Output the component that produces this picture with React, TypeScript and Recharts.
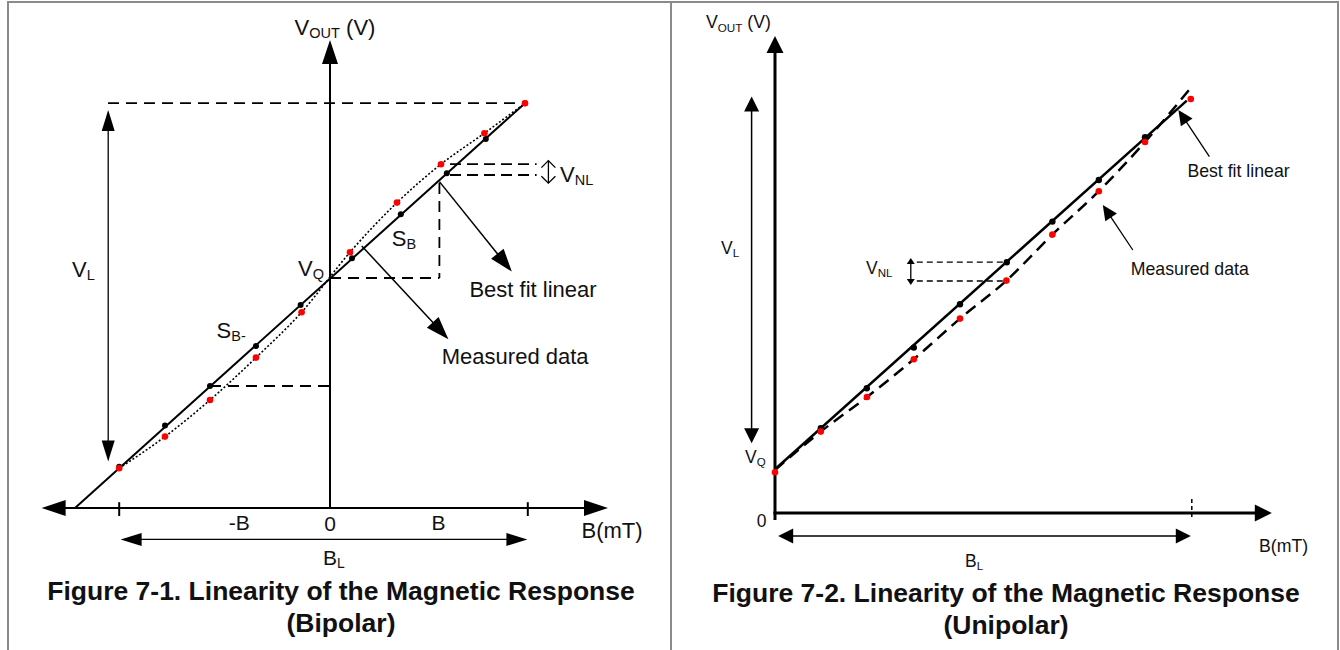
import React from 'react';
import { ComposedChart, Line, XAxis, YAxis, ReferenceLine, ReferenceDot } from 'recharts';

const FONT = '"Liberation Sans", Arial, Helvetica, sans-serif';

// Figure 7-1 (bipolar): B in mT, V_OUT in arbitrary units
const bipolarFitLine = [
  { b: -127.5, v: 0 },
  { b: 97.5, v: 202.4 },
];
const bipolarFitDots = [
  { b: -105.4, v: 20.6 },
  { b: -82.5, v: 41.3 },
  { b: -60, v: 61 },
  { b: -37, v: 81 },
  { b: -14.7, v: 101.5 },
  { b: 11, v: 124.9 },
  { b: 35.4, v: 146.9 },
  { b: 58.4, v: 167.4 },
  { b: 77.9, v: 184.5 },
  { b: 97.5, v: 202.4 },
];
const bipolarMeasured = [
  { b: -105.4, v: 19.9 },
  { b: -82.5, v: 35.7 },
  { b: -60, v: 54 },
  { b: -37, v: 75.2 },
  { b: -14.2, v: 97.9 },
  { b: 10, v: 127.9 },
  { b: 33.5, v: 152.7 },
  { b: 55.5, v: 171.9 },
  { b: 77.2, v: 187.4 },
  { b: 97.5, v: 202.4 },
];
const bipolarTickLabels = ['-B', '0', 'B'];

// Figure 7-2 (unipolar)
const unipolarFitLine = [
  { b: 0, v: 21.9 },
  { b: 205.9, v: 206.2 },
];
const unipolarFitDots = [
  { b: 22.9, v: 42.4 },
  { b: 45.9, v: 62.4 },
  { b: 69.4, v: 82.7 },
  { b: 92.5, v: 104.4 },
  { b: 115.9, v: 125.4 },
  { b: 138.7, v: 145.7 },
  { b: 161.9, v: 166.5 },
  { b: 185, v: 187.9 },
];
const unipolarMeasured = [
  { b: 0, v: 20.4 },
  { b: 22.9, v: 40.7 },
  { b: 46, v: 58 },
  { b: 69.4, v: 76.9 },
  { b: 92.5, v: 97.2 },
  { b: 115.7, v: 116.2 },
  { b: 138.7, v: 139.2 },
  { b: 161.9, v: 160.9 },
  { b: 185, v: 185.5 },
  { b: 207.9, v: 207 },
];
const unipolarMeasuredCurve = [
  { b: 0, v: 21.5 },
  { b: 22.9, v: 40.7 },
  { b: 46, v: 58 },
  { b: 69.4, v: 76.9 },
  { b: 92.5, v: 97.2 },
  { b: 115.7, v: 116.2 },
  { b: 138.7, v: 139.2 },
  { b: 161.9, v: 160.9 },
  { b: 185, v: 185.5 },
  { b: 208.4, v: 213.2 },
];

type Head = { kind: 'fill' | 'open'; len: number; half: number };

function arrow(width: number, end?: Head, start?: Head) {
  return (p: any) => {
    const { x1, y1, x2, y2 } = p;
    const dx = x2 - x1;
    const dy = y2 - y1;
    const L = Math.hypot(dx, dy) || 1;
    const ux = dx / L;
    const uy = dy / L;
    const nx = -uy;
    const ny = ux;
    let sx = x1, sy = y1, ex = x2, ey = y2;
    const heads: any[] = [];
    const mk = (tx: number, ty: number, dx0: number, dy0: number, h: Head, key: string) => {
      const bx = tx - dx0 * h.len;
      const by = ty - dy0 * h.len;
      const pts = `${bx + nx * h.half},${by + ny * h.half} ${tx},${ty} ${bx - nx * h.half},${by - ny * h.half}`;
      return h.kind === 'fill'
        ? <polygon key={key} points={pts} fill="#000" />
        : <polyline key={key} points={pts} fill="none" stroke="#000" strokeWidth={width} />;
    };
    if (end) {
      heads.push(mk(x2, y2, ux, uy, end, 'e'));
      if (end.kind === 'fill') { ex = x2 - ux * (end.len - 1); ey = y2 - uy * (end.len - 1); }
    }
    if (start) {
      heads.push(mk(x1, y1, -ux, -uy, start, 's'));
      if (start.kind === 'fill') { sx = x1 + ux * (start.len - 1); sy = y1 + uy * (start.len - 1); }
    }
    return (
      <g>
        <line x1={sx} y1={sy} x2={ex} y2={ey} stroke="#000" strokeWidth={width} />
        {heads}
      </g>
    );
  };
}

type Part = [string, boolean?];

function note(key: string, b: number, v: number, parts: Part[], size: number, anchor: 'start' | 'middle' = 'start') {
  const sub = size * 0.66;
  const shift = size * 0.28;
  return (
    <ReferenceDot
      key={key}
      x={b}
      y={v}
      r={0}
      shape={(p: any) => {
        let low = false;
        return (
          <text x={p.cx} y={p.cy} fontFamily={FONT} fontSize={size} fill="#111" textAnchor={anchor} dominantBaseline="central">
            {parts.map(([t, isSub], i) => {
              let dy = 0;
              if (isSub && !low) { dy = shift; low = true; }
              else if (!isSub && low) { dy = -shift; low = false; }
              return (
                <tspan key={i} dy={dy} fontSize={isSub ? sub : size}>{t}</tspan>
              );
            })}
          </text>
        );
      }}
    />
  );
}

const dash = (key: string, a: [number, number], c: [number, number], w: number, pattern: string) => (
  <ReferenceLine
    key={key}
    segment={[{ x: a[0], y: a[1] }, { x: c[0], y: c[1] }]}
    stroke="#000"
    strokeWidth={w}
    strokeDasharray={pattern}
  />
);

const arr = (key: string, a: [number, number], c: [number, number], shape: any) => (
  <ReferenceLine key={key} segment={[{ x: a[0], y: a[1] }, { x: c[0], y: c[1] }]} shape={shape} />
);

const bigL: Head = { kind: 'fill', len: 24, half: 8 };
const medL: Head = { kind: 'fill', len: 21, half: 6.5 };
const annL: Head = { kind: 'fill', len: 23, half: 8 };
const openL: Head = { kind: 'open', len: 7, half: 7 };

const bigR: Head = { kind: 'fill', len: 17, half: 8.5 };
const medR: Head = { kind: 'fill', len: 15, half: 7.5 };
const annR: Head = { kind: 'fill', len: 15, half: 7 };
const smallR: Head = { kind: 'fill', len: 6, half: 4 };

function Bipolar() {
  return (
    <ComposedChart width={670} height={650} margin={{ top: 0, right: 0, bottom: 0, left: 0 }}>
      <XAxis type="number" dataKey="b" domain={[-165, 170]} hide allowDataOverflow />
      <YAxis type="number" domain={[-71, 254]} hide allowDataOverflow />

      {arr('yaxis', [0, 0], [0, 234], arrow(2, bigL))}
      {arr('xaxis', [-144.2, 0], [139, 0], arrow(2, bigL, bigL))}
      {arr('tickL', [-105.4, 2.9], [-105.4, -4], arrow(2))}
      {arr('tickR', [98.9, 2.9], [98.9, -4], arrow(2))}

      {dash('top', [-111, 202.4], [97.5, 202.4], 1.8, '11 7')}
      {arr('vl', [-110.9, 23.2], [-110.9, 199], arrow(1.3, medL, medL))}
      {dash('vnl1', [60, 171.9], [103.3, 171.9], 1.8, '11 6')}
      {dash('vnl2', [60, 166.5], [103.3, 166.5], 1.8, '11 6')}
      {arr('vnlArrow', [109.2, 162.4], [109.2, 173.7], arrow(1.3, openL, openL))}
      {dash('sbV', [54.7, 162.5], [54.7, 115], 1.8, '11 7')}
      {dash('sbH', [0, 115], [54.7, 115], 1.8, '11 7')}
      {dash('sbm', [-60, 61], [0, 61], 1.8, '11 7')}
      {arr('fitArrow', [54.7, 163.2], [90.9, 118.2], arrow(1.5, annL))}
      {arr('measArrow', [15.9, 131], [59.2, 84.4], arrow(1.5, annL))}
      {arr('bl', [-104.7, -15.7], [98.7, -15.7], arrow(1.3, medL, medL))}

      <Line data={bipolarFitLine} dataKey="v" type="linear" stroke="#000" strokeWidth={2} dot={false} activeDot={false} isAnimationActive={false} />
      <Line data={bipolarFitDots} dataKey="v" stroke="none" dot={{ r: 3, fill: '#000', stroke: 'none' }} activeDot={false} isAnimationActive={false} />
      <Line data={bipolarMeasured} dataKey="v" type="monotone" stroke="#000" strokeWidth={1.6} strokeDasharray="2 2" dot={{ r: 3.3, fill: '#ff0000', stroke: 'none' }} activeDot={false} isAnimationActive={false} />

      {note('vout', 2.5, 240.5, [['V'], ['OUT', true], [' (V)']], 22, 'middle')}
      {note('vlT', -129, 119.5, [['V'], ['L', true]], 22)}
      {note('sbm', -56.7, 89, [['S'], ['B-', true]], 22)}
      {note('vq', -16, 120, [['V'], ['Q', true]], 22)}
      {note('sb', 30.9, 135, [['S'], ['B', true]], 22)}
      {note('vnl', 115, 167, [['V'], ['NL', true]], 22)}
      {note('fit', 69.7, 109.4, [['Best fit linear']], 22)}
      {note('meas', 55.9, 76, [['Measured data']], 22)}
      {note('t0', -45.4, -7.2, [[bipolarTickLabels[0]]], 21, 'middle')}
      {note('t1', 0, -7.6, [[bipolarTickLabels[1]]], 21, 'middle')}
      {note('t2', 54.2, -7.2, [[bipolarTickLabels[2]]], 21, 'middle')}
      {note('bmt', 141, -11, [['B(mT)']], 22, 'middle')}
      {note('blT', -3.5, -24.4, [['B'], ['L', true]], 21)}
    </ComposedChart>
  );
}

function Unipolar() {
  return (
    <ComposedChart width={670} height={650} margin={{ top: 0, right: 0, bottom: 0, left: 0 }}>
      <XAxis type="number" dataKey="b" domain={[-52.5, 282.5]} hide allowDataOverflow />
      <YAxis type="number" domain={[-68.5, 256.5]} hide allowDataOverflow />

      {arr('yaxis', [0, -3.5], [0, 238.5], arrow(3, bigR))}
      {arr('xaxis', [-0.8, 0], [248.4, 0], arrow(3, bigR))}
      {dash('tick', [208.4, 7], [208.4, -3.5], 1.5, '4 3')}
      {arr('vl', [-11.7, 34.9], [-11.7, 208.2], arrow(1.5, medR, medR))}
      {arr('bl', [1.6, -11.5], [207.9, -11.5], arrow(1.5, medR, medR))}
      {dash('vnl1', [70.9, 125.4], [115.9, 125.4], 1.3, '6 4')}
      {dash('vnl2', [70.9, 116], [115.7, 116], 1.3, '6 4')}
      {arr('vnlArrow', [67.9, 114], [67.9, 127.5], arrow(1.3, smallR, smallR))}
      {arr('fitArrow', [217.2, 178.2], [201.7, 201.5], arrow(1.3, annR))}
      {arr('measArrow', [178.9, 131.5], [163.9, 154], arrow(1.3, annR))}

      <Line data={unipolarFitLine} dataKey="v" type="linear" stroke="#000" strokeWidth={2.5} dot={false} activeDot={false} isAnimationActive={false} />
      <Line data={unipolarFitDots} dataKey="v" stroke="none" dot={{ r: 3.2, fill: '#000', stroke: 'none' }} activeDot={false} isAnimationActive={false} />
      <Line data={unipolarMeasuredCurve} dataKey="v" type="monotone" stroke="#000" strokeWidth={2.5} strokeDasharray="12 7" dot={false} activeDot={false} isAnimationActive={false} />
      <Line data={unipolarMeasured} dataKey="v" stroke="none" dot={{ r: 3.3, fill: '#ff0000', stroke: 'none' }} activeDot={false} isAnimationActive={false} />

      {note('vout', -18.3, 245.7, [['V'], ['OUT', true], [' (V)']], 17.7, 'middle')}
      {note('vlT', -27, 132.5, [['V'], ['L', true]], 17.5)}
      {note('vq', -15, 28.2, [['V'], ['Q', true]], 17.5)}
      {note('zero', -6.7, -3.9, [['0']], 17.5, 'middle')}
      {note('bmt', 254.3, -16.5, [['B(mT)']], 17.7, 'middle')}
      {note('blT', 95, -24, [['B'], ['L', true]], 17.5)}
      {note('fit', 206.2, 171.2, [['Best fit linear']], 17.7)}
      {note('meas', 177.9, 122, [['Measured data']], 17.7)}
      {note('vnl', 45.5, 122.4, [['V'], ['NL', true]], 17.5)}
    </ComposedChart>
  );
}

const border = '#8a8a8a';
const captionStyle: React.CSSProperties = {
  position: 'absolute',
  width: 670,
  textAlign: 'center',
  fontFamily: FONT,
  fontWeight: 'bold',
  fontSize: 26.5,
  lineHeight: '31.5px',
  color: '#111',
};

export default function App() {
  return (
    <div style={{ position: 'fixed', left: 0, top: 0, width: 1340, height: 650, background: '#fff', overflow: 'hidden' }}>
      <div style={{ position: 'absolute', left: 7, top: 1, width: 1332, height: 2, background: border }} />
      <div style={{ position: 'absolute', left: 7, top: 1, width: 2, height: 649, background: border }} />
      <div style={{ position: 'absolute', left: 670, top: 1, width: 2, height: 649, background: border }} />
      <div style={{ position: 'absolute', left: 1337, top: 1, width: 2, height: 649, background: border }} />
      <div style={{ position: 'absolute', left: 0, top: 0 }}>
        <Bipolar />
      </div>
      <div style={{ position: 'absolute', left: 670, top: 0 }}>
        <Unipolar />
      </div>
      <div style={{ ...captionStyle, left: 6, top: 576 }}>
        Figure 7-1. Linearity of the Magnetic Response
        <br />
        (Bipolar)
      </div>
      <div style={{ ...captionStyle, left: 671, top: 578 }}>
        Figure 7-2. Linearity of the Magnetic Response
        <br />
        (Unipolar)
      </div>
    </div>
  );
}
